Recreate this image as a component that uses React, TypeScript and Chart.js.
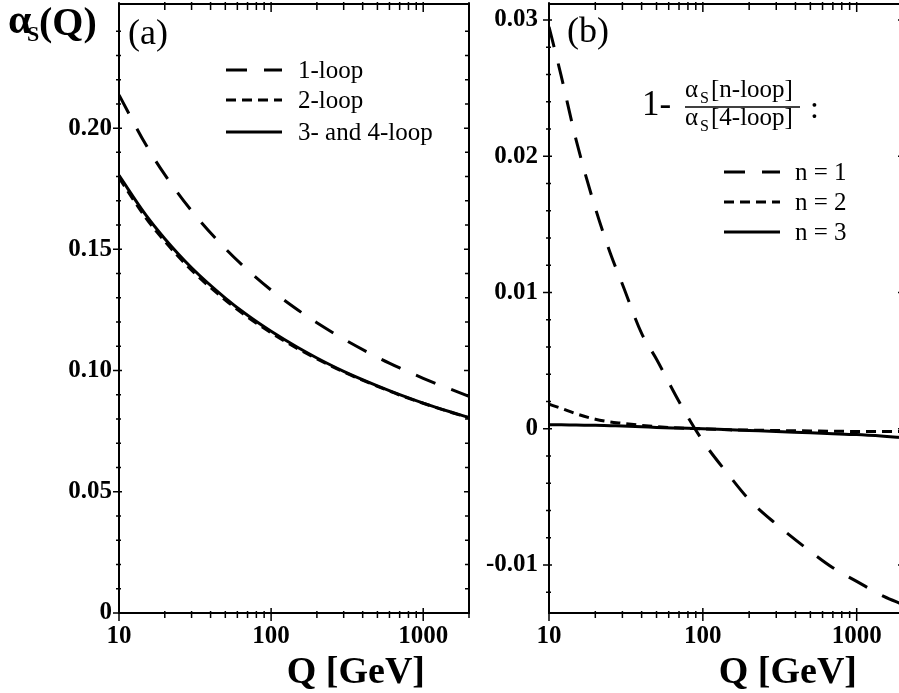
import React, { useEffect, useRef } from 'react';
import { Chart, registerables } from 'chart.js';

Chart.register(...registerables);

const SERIF = '"Liberation Serif", "Times New Roman", serif';

// ---- Panel (a): alpha_s(Q) ----
const Q_LEFT = [10, 15, 20, 30, 50, 70, 100, 150, 200, 300, 500, 700, 1000, 1500, 2000];
const ALPHA_1LOOP = [0.2137, 0.1932, 0.1808, 0.1659, 0.1503, 0.1415, 0.1332, 0.125, 0.1197, 0.113, 0.1055, 0.1011, 0.0968, 0.0924, 0.0894];
const ALPHA_2LOOP = [0.1795, 0.163, 0.1533, 0.1414, 0.1291, 0.1221, 0.1156, 0.109, 0.1048, 0.0994, 0.0935, 0.0899, 0.0865, 0.0829, 0.0805];
const ALPHA_34LOOP = [0.1805, 0.1642, 0.1544, 0.1424, 0.1299, 0.1228, 0.1162, 0.1095, 0.1052, 0.0997, 0.0937, 0.0901, 0.0866, 0.083, 0.0806];

// ---- Panel (b): 1 - alpha_s[n-loop]/alpha_s[4-loop] ----
const Q_RIGHT = [10, 12, 15, 20, 25, 30, 40, 50, 70, 100, 150, 200, 300, 500, 700, 1000, 1500, 2000];
const RATIO_N1 = [0.0295, 0.0259, 0.0212, 0.0162, 0.0129, 0.0106, 0.007, 0.0051, 0.002, -0.0009, -0.0035, -0.0052, -0.007, -0.009, -0.0102, -0.0112, -0.0123, -0.0129];
const RATIO_N2 = [0.0018, 0.0015, 0.0011, 0.0007, 0.0005, 0.0004, 0.00025, 0.00015, 0.00005, 0.0, -0.00008, -0.0001, -0.00013, -0.00016, -0.00018, -0.0002, -0.0002, -0.0002];
const RATIO_N3 = [0.0003, 0.00029, 0.00027, 0.00025, 0.00022, 0.0002, 0.00015, 0.0001, 0.00005, 0.0, -0.00008, -0.00013, -0.0002, -0.0003, -0.00036, -0.00043, -0.00055, -0.00065];

// ---- Axis ticks ----
const X_TICKS = [10, 20, 30, 40, 50, 60, 70, 80, 90, 100, 200, 300, 400, 500, 600, 700, 800, 900, 1000, 2000];
const X_MAJOR = [10, 100, 1000];
const LEFT_Y_TICKS = [0, 0.01, 0.02, 0.03, 0.04, 0.05, 0.06, 0.07, 0.08, 0.09, 0.1, 0.11, 0.12, 0.13, 0.14, 0.15, 0.16, 0.17, 0.18, 0.19, 0.2, 0.21, 0.22, 0.23, 0.24];
const LEFT_Y_LABELS: Record<string, string> = { '0': '0', '0.05': '0.05', '0.1': '0.10', '0.15': '0.15', '0.2': '0.20' };
const RIGHT_Y_TICKS = [-0.012, -0.01, -0.008, -0.006, -0.004, -0.002, 0, 0.002, 0.004, 0.006, 0.008, 0.01, 0.012, 0.014, 0.016, 0.018, 0.02, 0.022, 0.024, 0.026, 0.028, 0.03];
const RIGHT_Y_LABELS: Record<string, string> = { '-0.01': '-0.01', '0': '0', '0.01': '0.01', '0.02': '0.02', '0.03': '0.03' };

const LEFT_LEGEND = ['1-loop', '2-loop', '3- and 4-loop'];
const RIGHT_LEGEND = ['n = 1', 'n = 2', 'n = 3'];
const X_TITLE = 'Q [GeV]';

const DASH_1 = [21, 17];
const DASH_2 = [10, 6];
const DASH_SOLID: number[] = [];

const H = 693;
const PLOT_TOP = 4;
const PLOT_BOTTOM = 613;

type Extras = (ctx: CanvasRenderingContext2D, chart: any) => void;

function txt(ctx: CanvasRenderingContext2D, s: string, x: number, y: number, font: string, align: CanvasTextAlign = 'left', base: CanvasTextBaseline = 'alphabetic') {
  ctx.font = font;
  ctx.textAlign = align;
  ctx.textBaseline = base;
  ctx.fillStyle = '#000';
  ctx.fillText(s, x, y);
}

function legendLine(ctx: CanvasRenderingContext2D, x1: number, x2: number, y: number, dash: number[]) {
  ctx.save();
  ctx.lineWidth = 3;
  ctx.strokeStyle = '#000';
  ctx.setLineDash(dash);
  ctx.beginPath();
  ctx.moveTo(x1, y);
  ctx.lineTo(x2, y);
  ctx.stroke();
  ctx.restore();
}

function keyOf(v: number) {
  return String(Math.round(v * 1000) / 1000);
}

function buildChart(
  canvas: HTMLCanvasElement,
  p: {
    canvasX: number; canvasW: number; plotLeft: number; plotRight: number;
    q: number[]; series: { values: number[]; dash: number[] }[];
    yMin: number; yMax: number; yTicks: number[]; yLabels: Record<string, string>; yPad: number;
    extras: Extras;
  }
) {
  const chartLeft = p.plotLeft - p.canvasX;
  const chartRight = p.plotRight - p.canvasX;
  const framePlugin = {
    id: 'frame',
    afterDraw(chart: any) {
      const ctx: CanvasRenderingContext2D = chart.ctx;
      const { left, right, top, bottom } = chart.chartArea;
      const xs = chart.scales.x;
      const ys = chart.scales.y;
      ctx.save();
      ctx.setLineDash([]);
      ctx.strokeStyle = '#000';
      ctx.lineWidth = 2;
      ctx.strokeRect(left, top, right - left, bottom - top);
      ctx.lineWidth = 1.5;
      ctx.beginPath();
      for (const v of X_TICKS) {
        const px = xs.getPixelForValue(v);
        const major = X_MAJOR.includes(v);
        ctx.moveTo(px, bottom + (major ? 8 : 5));
        ctx.lineTo(px, bottom - (major ? 5 : 2));
        ctx.moveTo(px, top - 2);
        ctx.lineTo(px, top + (major ? 8 : 6));
      }
      for (const v of p.yTicks) {
        const py = ys.getPixelForValue(v);
        const major = p.yLabels[keyOf(v)] !== undefined;
        ctx.moveTo(left - (major ? 6 : 3), py);
        ctx.lineTo(left + (major ? 3 : 2), py);
        ctx.moveTo(right + 1, py);
        ctx.lineTo(right - (major ? 5 : 4), py);
      }
      ctx.stroke();
      p.extras(ctx, chart);
      ctx.restore();
    },
  };

  const font = { family: SERIF, size: 25, weight: 'bold' as const };

  return new Chart(canvas, {
    type: 'line',
    data: {
      datasets: p.series.map((s) => ({
        data: p.q.map((q, i) => ({ x: q, y: s.values[i] })),
        borderColor: '#000',
        borderWidth: 3,
        borderDash: s.dash,
        borderCapStyle: 'butt' as const,
        pointRadius: 0,
        fill: false,
        cubicInterpolationMode: 'monotone' as const,
      })),
    },
    options: {
      responsive: false,
      animation: false,
      events: [],
      layout: { padding: { top: PLOT_TOP, right: p.canvasW - chartRight, left: 0, bottom: 0 } },
      plugins: { legend: { display: false }, tooltip: { enabled: false }, title: { display: false } },
      scales: {
        x: {
          type: 'logarithmic',
          min: 10,
          max: 2000,
          afterBuildTicks: (s: any) => {
            s.ticks = X_TICKS.map((v) => ({ value: v, major: false }));
          },
          afterFit: (s: any) => {
            s.height = H - PLOT_BOTTOM;
            s.paddingLeft = 0;
            s.paddingRight = 0;
          },
          grid: { display: false, drawTicks: false },
          border: { display: false },
          ticks: {
            autoSkip: false,
            maxRotation: 0,
            minRotation: 0,
            padding: 9,
            color: '#000',
            font,
            callback: (v: any) => (X_MAJOR.includes(Number(v)) ? String(v) : ''),
          },
        },
        y: {
          type: 'linear',
          min: p.yMin,
          max: p.yMax,
          afterBuildTicks: (s: any) => {
            s.ticks = p.yTicks.map((v) => ({ value: v }));
          },
          afterFit: (s: any) => {
            s.width = chartLeft;
            s.paddingTop = 0;
            s.paddingBottom = 0;
          },
          grid: { display: false, drawTicks: false },
          border: { display: false },
          ticks: {
            autoSkip: false,
            padding: p.yPad,
            color: '#000',
            font,
            callback: (v: any) => p.yLabels[keyOf(Number(v))] ?? '',
          },
        },
      },
    } as any,
    plugins: [framePlugin],
  });
}

const leftExtras: Extras = (ctx) => {
  txt(ctx, 'α', 8, 33, `bold 42px ${SERIF}`);
  txt(ctx, 'S', 27, 41, `bold 22px ${SERIF}`);
  txt(ctx, '(Q)', 39, 35, `bold 40px ${SERIF}`);
  txt(ctx, '(a)', 128, 44, `36px ${SERIF}`);
  const rows = [70, 100, 132];
  const dashes = [DASH_1, DASH_2, DASH_SOLID];
  rows.forEach((y, i) => {
    legendLine(ctx, 226, 282, y, dashes[i]);
    txt(ctx, LEFT_LEGEND[i], 298, y + 1, `25px ${SERIF}`, 'left', 'middle');
  });
  txt(ctx, X_TITLE, 425, 683, `bold 38px ${SERIF}`, 'right');
};

const RIGHT_OFFSET = 470;
const rightExtras: Extras = (ctx) => {
  const o = RIGHT_OFFSET;
  txt(ctx, '(b)', 567 - o, 42, `36px ${SERIF}`);
  txt(ctx, '1-', 642 - o, 115, `35px ${SERIF}`);
  txt(ctx, 'α', 685 - o, 97, `25px ${SERIF}`);
  txt(ctx, 'S', 700 - o, 103, `16px ${SERIF}`);
  txt(ctx, '[n-loop]', 711 - o, 97, `25px ${SERIF}`);
  ctx.lineWidth = 1.5;
  ctx.setLineDash([]);
  ctx.beginPath();
  ctx.moveTo(685 - o, 107);
  ctx.lineTo(800 - o, 107);
  ctx.stroke();
  txt(ctx, 'α', 685 - o, 125, `25px ${SERIF}`);
  txt(ctx, 'S', 700 - o, 131, `16px ${SERIF}`);
  txt(ctx, '[4-loop]', 711 - o, 125, `25px ${SERIF}`);
  txt(ctx, ':', 810 - o, 118, `32px ${SERIF}`);
  const rows = [172, 202, 232];
  const dashes = [DASH_1, DASH_2, DASH_SOLID];
  rows.forEach((y, i) => {
    legendLine(ctx, 724 - o, 780 - o, y, dashes[i]);
    txt(ctx, RIGHT_LEGEND[i], 795 - o, y + 1, `25px ${SERIF}`, 'left', 'middle');
  });
  txt(ctx, X_TITLE, 857 - o, 683, `bold 38px ${SERIF}`, 'right');
};

export default function App() {
  const leftRef = useRef<HTMLCanvasElement>(null);
  const rightRef = useRef<HTMLCanvasElement>(null);

  useEffect(() => {
    const a = buildChart(leftRef.current!, {
      canvasX: 0, canvasW: 476, plotLeft: 119, plotRight: 469,
      q: Q_LEFT,
      series: [
        { values: ALPHA_1LOOP, dash: DASH_1 },
        { values: ALPHA_2LOOP, dash: DASH_2 },
        { values: ALPHA_34LOOP, dash: DASH_SOLID },
      ],
      yMin: 0, yMax: 0.2512, yTicks: LEFT_Y_TICKS, yLabels: LEFT_Y_LABELS, yPad: 7,
      extras: leftExtras,
    });
    const b = buildChart(rightRef.current!, {
      canvasX: RIGHT_OFFSET, canvasW: 440, plotLeft: 549, plotRight: 903,
      q: Q_RIGHT,
      series: [
        { values: RATIO_N1, dash: DASH_1 },
        { values: RATIO_N2, dash: DASH_2 },
        { values: RATIO_N3, dash: DASH_SOLID },
      ],
      yMin: -0.01352, yMax: 0.03117, yTicks: RIGHT_Y_TICKS, yLabels: RIGHT_Y_LABELS, yPad: 11,
      extras: rightExtras,
    });
    return () => {
      a.destroy();
      b.destroy();
    };
  }, []);

  return (
    <div style={{ position: 'fixed', left: 0, top: 0, width: 899, height: 693, overflow: 'hidden', background: '#fff' }}>
      <canvas ref={leftRef} width={476} height={693} style={{ position: 'absolute', left: 0, top: 0 }} />
      <canvas ref={rightRef} width={440} height={693} style={{ position: 'absolute', left: RIGHT_OFFSET, top: 0 }} />
    </div>
  );
}
